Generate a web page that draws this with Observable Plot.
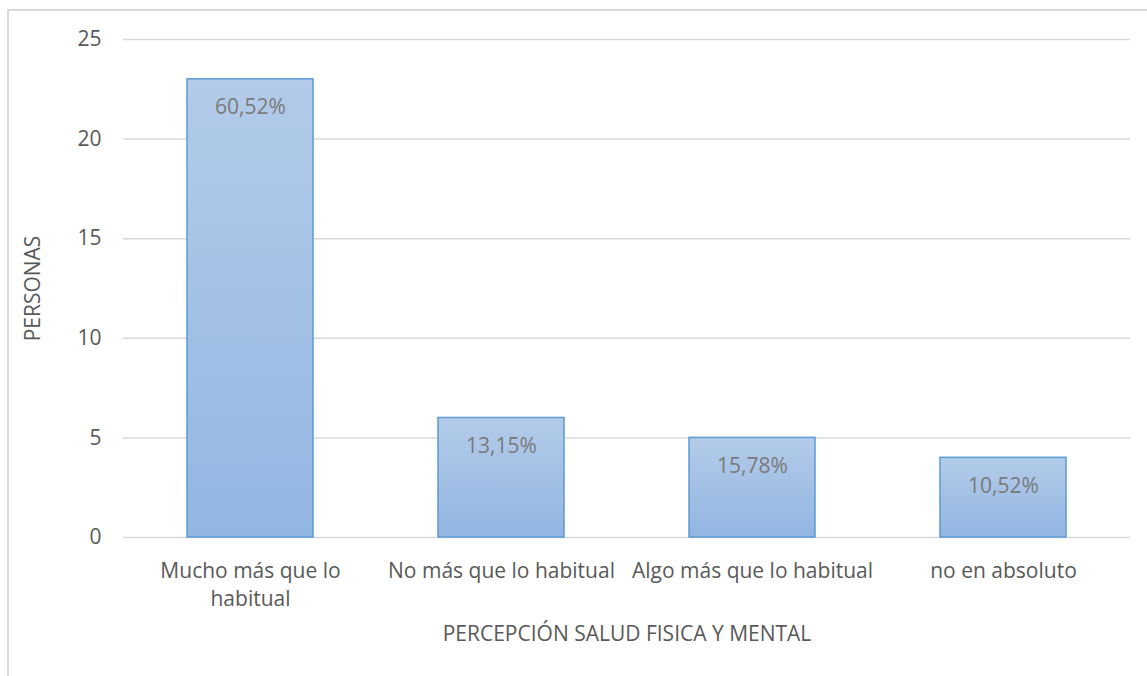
<!DOCTYPE html>
<html>
<head>
<meta charset="utf-8">
<script src="https://cdn.jsdelivr.net/npm/d3@7"></script>
<script src="https://cdn.jsdelivr.net/npm/@observablehq/plot@0.6"></script>
<style>
  html, body { margin: 0; padding: 0; background: #fff; }
  #wrap { position: relative; width: 1147px; height: 676px; overflow: hidden; }
  #border { position: absolute; left: 7px; top: 9px; width: 1200px; height: 800px; border: 2px solid #d9d9d9; box-sizing: border-box; }
  #chart { position: absolute; left: 0; top: 0; }
</style>
</head>
<body>
<div id="wrap"><div id="border"></div><div id="chart"></div></div>
<script>
const categories = ["Mucho más que lo habitual", "No más que lo habitual", "Algo más que lo habitual", "no en absoluto"];
const values = [23, 6, 5, 4];
const percentLabels = ["60,52%", "13,15%", "15,78%", "10,52%"];
const yTicks = [0, 5, 10, 15, 20, 25];
const xTitle = "PERCEPCIÓN SALUD FISICA Y MENTAL";
const yTitle = "PERSONAS";

const data = categories.map((c, i) => ({category: c, value: values[i], label: percentLabels[i]}));
const wrapLabel = d => d === "Mucho más que lo habitual" ? "Mucho más que lo\nhabitual" : d;

const font = "'Open Sans', sans-serif";
const plot = Plot.plot({
  width: 1147,
  height: 676,
  marginLeft: 123,
  marginRight: 17,
  marginTop: 39,
  marginBottom: 139,
  style: {fontFamily: font, background: "transparent", overflow: "visible"},
  x: {domain: categories, paddingInner: 0.5, paddingOuter: 0.25, label: null},
  y: {domain: [0, 25], label: null},
  marks: [
    Plot.gridY(yTicks, {stroke: "#d9d9d9", strokeOpacity: 1, strokeWidth: 1.5}),
    Plot.barY(data, {x: "category", y: "value", fill: "url(#barGrad)", stroke: "#5b9bd5", strokeWidth: 1.5}),
    Plot.text(data, {x: "category", y: "value", text: "label", dy: 28, fill: "#7a7a7a", fontSize: 21}),
    Plot.axisY(yTicks, {tickSize: 0, tickPadding: 22, fontSize: 21, color: "#595959", label: null}),
    Plot.axisX({tickSize: 0, tickPadding: 21, fontSize: 21, color: "#595959", tickFormat: wrapLabel, lineHeight: 1.33, label: null}),
    Plot.text([xTitle], {frameAnchor: "bottom", dy: 97, lineAnchor: "middle", fontSize: 21, fill: "#595959"}),
    Plot.text([yTitle], {frameAnchor: "left", dx: -90, rotate: -90, textAnchor: "middle", fontSize: 21, fill: "#595959"})
  ]
});

const defs = d3.select(plot).insert("defs", ":first-child");
const g = defs.append("linearGradient").attr("id", "barGrad").attr("x1", 0).attr("y1", 0).attr("x2", 0).attr("y2", 1);
g.append("stop").attr("offset", "0%").attr("stop-color", "#b3cbe9");
g.append("stop").attr("offset", "100%").attr("stop-color", "#92b6e2");

document.getElementById("chart").appendChild(plot);
</script>
</body>
</html>
